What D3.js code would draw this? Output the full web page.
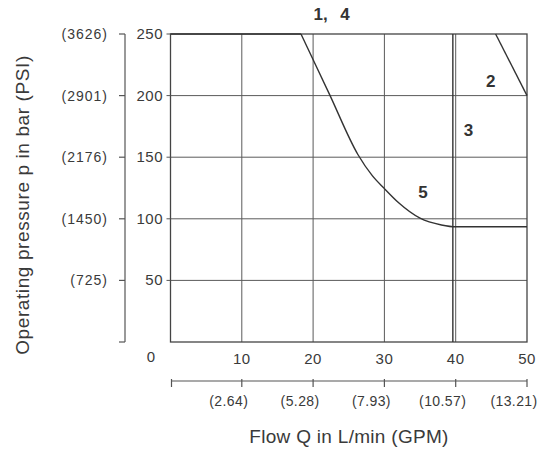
<!DOCTYPE html>
<html>
<head>
<meta charset="utf-8">
<script src="https://cdn.jsdelivr.net/npm/d3@7"></script>
<style>
  body { margin: 0; background: #fff; }
  svg { display: block; font-family: "Liberation Sans", Arial, sans-serif; }
</style>
</head>
<body>
<svg id="chart" width="539" height="451"></svg>
<script>
// Flow Q (L/min) ticks and matching GPM labels
const flowTicks = [10, 20, 30, 40, 50];
const gpmLabels = ['(2.64)', '(5.28)', '(7.93)', '(10.57)', '(13.21)'];
// Pressure (bar) ticks and matching PSI labels
const barTicks = [50, 100, 150, 200, 250];
const psiLabels = ['(725)', '(1450)', '(2176)', '(2901)', '(3626)'];

// Curve 1,4 / 5 (one path)
const curve15Q = [0, 18.3, 22.3, 26.3, 28.3, 30, 32, 35, 38, 40, 50];
const curve15P = [250, 250, 201, 152, 135, 124.5, 113, 100.5, 95, 93.5, 93.5];
// Curve 2
const curve2Q = [45.6, 50];
const curve2P = [250, 200];
// Curve 3 (vertical limit)
const curve3Q = [39.6, 39.6];
const curve3P = [0, 250];

// Curve labels
const labelText = ['1, 4', '2', '3', '5'];
const labelQ = [22.6, 44.9, 41.8, 35.4];
const labelP = [261, 207, 167, 117];

const svg = d3.select('#chart');
const x = d3.scaleLinear().domain([0, 50]).range([170.5, 527]);
const y = d3.scaleLinear().domain([0, 250]).range([342, 34]);
const ink = '#3a3a3a';

// grid
const grid = svg.append('g').attr('stroke', '#5a5a5a').attr('stroke-width', 1);
grid.selectAll('line.v').data(flowTicks.slice(0, -1)).join('line')
  .attr('x1', d => x(d)).attr('x2', d => x(d))
  .attr('y1', y(0)).attr('y2', y(250));
grid.selectAll('line.h').data(barTicks.slice(0, -1)).join('line')
  .attr('x1', x(0)).attr('x2', x(50))
  .attr('y1', d => y(d)).attr('y2', d => y(d));

// plot frame
svg.append('rect')
  .attr('x', x(0)).attr('y', y(250))
  .attr('width', x(50) - x(0)).attr('height', y(0) - y(250))
  .attr('fill', 'none').attr('stroke', '#444').attr('stroke-width', 1.3);

// bar axis: small ticks + labels
const barAxis = svg.append('g');
barAxis.selectAll('line').data(barTicks).join('line')
  .attr('x1', x(0) - 4).attr('x2', x(0))
  .attr('y1', d => y(d)).attr('y2', d => y(d))
  .attr('stroke', '#555');
barAxis.selectAll('text').data(barTicks).join('text')
  .attr('x', 163).attr('y', d => y(d) + 5)
  .attr('text-anchor', 'end').attr('font-size', 15).attr('letter-spacing', 0.5)
  .attr('fill', ink).text(d => d);

// PSI axis (secondary, left)
const psiAxis = svg.append('g').attr('stroke', '#555').attr('stroke-width', 1.2);
psiAxis.append('line').attr('x1', 125).attr('x2', 125).attr('y1', y(250)).attr('y2', y(0));
psiAxis.selectAll('line.t').data([0].concat(barTicks)).join('line')
  .attr('x1', 119).attr('x2', 125)
  .attr('y1', d => y(d)).attr('y2', d => y(d));
svg.append('g').selectAll('text').data(barTicks).join('text')
  .attr('x', 108).attr('y', d => y(d) + 5)
  .attr('text-anchor', 'end').attr('font-size', 14).attr('letter-spacing', 1)
  .attr('fill', ink).text((d, i) => psiLabels[i]);

// corner zero
svg.append('text').attr('x', 151).attr('y', 362)
  .attr('text-anchor', 'middle').attr('font-size', 15).attr('fill', ink).text('0');

// flow labels under frame
svg.append('g').selectAll('text').data(flowTicks).join('text')
  .attr('x', d => x(d)).attr('y', 364)
  .attr('text-anchor', 'middle').attr('font-size', 15).attr('letter-spacing', 0.5)
  .attr('fill', ink).text(d => d);

// GPM axis (secondary, bottom)
const gpmY = 381;
const gpmAxis = svg.append('g').attr('stroke', '#555').attr('stroke-width', 1.2);
gpmAxis.append('line').attr('x1', x(0) + 1).attr('x2', x(50)).attr('y1', gpmY).attr('y2', gpmY);
gpmAxis.selectAll('line.t').data([0].concat(flowTicks)).join('line')
  .attr('x1', d => x(d) + (d === 0 ? 1 : 0)).attr('x2', d => x(d) + (d === 0 ? 1 : 0))
  .attr('y1', gpmY - 2).attr('y2', gpmY + 6);
svg.append('g').selectAll('text').data(flowTicks).join('text')
  .attr('x', d => x(d) - 13).attr('y', 406)
  .attr('text-anchor', 'middle').attr('font-size', 14).attr('letter-spacing', 0.4)
  .attr('fill', ink).text((d, i) => gpmLabels[i]);

// axis titles
svg.append('text').attr('x', 349).attr('y', 443)
  .attr('text-anchor', 'middle').attr('font-size', 19).attr('letter-spacing', 0.3)
  .attr('fill', ink).text('Flow Q in L/min (GPM)');
svg.append('text')
  .attr('transform', 'translate(29,205) rotate(-90)')
  .attr('text-anchor', 'middle').attr('font-size', 19).attr('letter-spacing', 0.6)
  .attr('fill', ink).text('Operating pressure p in bar (PSI)');

// curves
const pts15 = d3.zip(curve15Q, curve15P);
const line = d3.line().x(d => x(d[0])).y(d => y(d[1]));
const curveGroup = svg.append('g').attr('fill', 'none').attr('stroke', '#333').attr('stroke-width', 1.4);
// flat part keeps a sharp corner, the falling part is smoothed
curveGroup.append('path').attr('d', line(pts15.slice(0, 2)));
curveGroup.append('path')
  .attr('d', d3.line().x(d => x(d[0])).y(d => y(d[1])).curve(d3.curveMonotoneX)(pts15.slice(1)));
curveGroup.append('path').attr('d', line(d3.zip(curve2Q, curve2P)));
curveGroup.append('path').attr('d', line(d3.zip(curve3Q, curve3P)));

// curve labels
svg.append('g').selectAll('text').data(labelText).join('text')
  .attr('x', (d, i) => x(labelQ[i])).attr('y', (d, i) => y(labelP[i]))
  .attr('text-anchor', 'middle').attr('font-size', 17).attr('font-weight', 'bold')
  .attr('word-spacing', 8).attr('fill', '#333').text(d => d);
</script>
</body>
</html>
